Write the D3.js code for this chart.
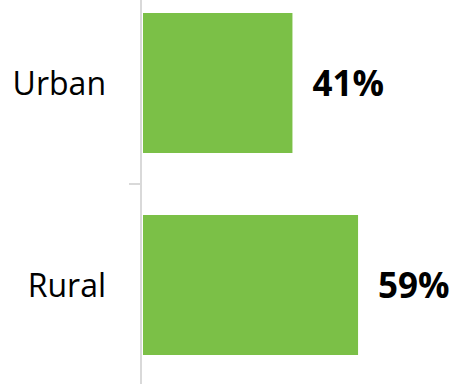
<!DOCTYPE html>
<html>
<head>
<meta charset="utf-8">
<script src="https://cdn.jsdelivr.net/npm/d3@7"></script>
<style>
  html, body { margin: 0; padding: 0; background: #fff; }
  svg { display: block; }
</style>
</head>
<body>
<svg id="chart" width="459" height="384"></svg>
<script>
// Share of population by area type
const categories = ["Urban", "Rural"];
const shares = [41, 59];
const valueLabels = ["41%", "59%"];

const width = 459, height = 384;
const svg = d3.select("#chart");

const x = d3.scaleLinear().domain([0, 100]).range([143, 507.5]);
const y = d3.scaleBand()
  .domain(categories)
  .range([-18, 386])
  .paddingInner(0.307)
  .paddingOuter(0.1535);

// bars
svg.selectAll("rect.bar")
  .data(categories)
  .join("rect")
  .attr("class", "bar")
  .attr("x", x(0))
  .attr("y", d => y(d))
  .attr("width", (d, i) => x(shares[i]) - x(0))
  .attr("height", y.bandwidth())
  .attr("fill", "#7bc047");

// category axis: vertical line plus ticks at band boundaries
const axisX = 141;
svg.append("line")
  .attr("x1", axisX).attr("x2", axisX)
  .attr("y1", 0).attr("y2", height)
  .attr("stroke", "#d9d9d9").attr("stroke-width", 2);

const boundaries = categories.slice(1).map(c => y(c) - y.step() * y.paddingInner() / 2);
svg.selectAll("line.tick")
  .data(boundaries)
  .join("line")
  .attr("class", "tick")
  .attr("x1", axisX - 12).attr("x2", axisX)
  .attr("y1", d => d).attr("y2", d => d)
  .attr("stroke", "#d9d9d9").attr("stroke-width", 2);

// category labels
svg.selectAll("text.cat")
  .data(categories)
  .join("text")
  .attr("class", "cat")
  .attr("x", 106)
  .attr("y", d => y(d) + y.bandwidth() / 2 + 12)
  .attr("text-anchor", "end")
  .attr("font-family", "'Open Sans', sans-serif")
  .attr("font-size", 32)
  .attr("fill", "#000")
  .text(d => d);

// value labels
svg.selectAll("text.val")
  .data(categories)
  .join("text")
  .attr("class", "val")
  .attr("x", (d, i) => x(shares[i]) + 20)
  .attr("y", d => y(d) + y.bandwidth() / 2 + 13)
  .attr("font-family", "'Open Sans', sans-serif")
  .attr("font-weight", "bold")
  .attr("font-size", 35)
  .attr("fill", "#000")
  .text((d, i) => valueLabels[i]);
</script>
</body>
</html>
